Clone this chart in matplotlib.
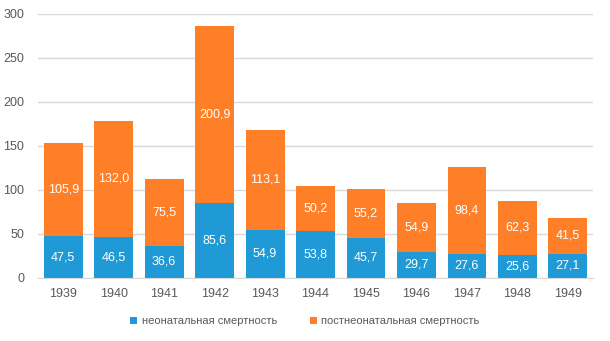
import matplotlib.pyplot as plt
import numpy as np

years = ["1939", "1940", "1941", "1942", "1943", "1944", "1945", "1946", "1947", "1948", "1949"]
neonatal = [47.5, 46.5, 36.6, 85.6, 54.9, 53.8, 45.7, 29.7, 27.6, 25.6, 27.1]
postneonatal = [105.9, 132.0, 75.5, 200.9, 113.1, 50.2, 55.2, 54.9, 98.4, 62.3, 41.5]

blue = "#1f9ad6"
orange = "#fe7f27"
txtcol = "#595959"

plt.rcParams["font.family"] = ["Liberation Sans", "DejaVu Sans"]

fig = plt.figure(figsize=(6.1, 3.41), dpi=100)
ax = fig.add_axes([0.0623, 0.185, 0.910, 0.774])

x = np.arange(len(years))
w = 0.77
b1 = ax.bar(x, neonatal, w, color=blue, label="неонатальная смертность", zorder=2)
b2 = ax.bar(x, postneonatal, w, bottom=neonatal, color=orange,
            label="постнеонатальная смертность", zorder=2)

#value labels in the middle of each segment
for i in range(len(years)):
    ax.text(x[i], neonatal[i] / 2, "{:.1f}".format(neonatal[i]).replace(".", ","),
            ha="center", va="center", color="white", fontsize=9)
    ax.text(x[i], neonatal[i] + postneonatal[i] / 2,
            "{:.1f}".format(postneonatal[i]).replace(".", ","),
            ha="center", va="center", color="white", fontsize=9)

ax.set_xlim(-0.5, len(years) - 0.5)
ax.set_ylim(0, 300)
ax.set_yticks(range(0, 301, 50))
ax.set_xticks(x)
ax.set_xticklabels(years)
ax.yaxis.grid(True, color="#d9d9d9", lw=1, zorder=0)
ax.set_axisbelow(True)
for s in ["top", "right", "left"]:
    ax.spines[s].set_visible(False)
ax.spines["bottom"].set_color("#d9d9d9")
ax.tick_params(length=0, colors=txtcol, labelsize=9)
ax.tick_params(axis="y", pad=10)
ax.tick_params(axis="x", pad=7)

leg = fig.legend(loc="center", bbox_to_anchor=(0.5, 0.058), ncol=2, frameon=False,
                 fontsize=8, handlelength=0.6, handleheight=0.6, handletextpad=0.4,
                 columnspacing=3.0)
for t in leg.get_texts():
    t.set_color(txtcol)

fig.savefig("out.png", dpi=100)
